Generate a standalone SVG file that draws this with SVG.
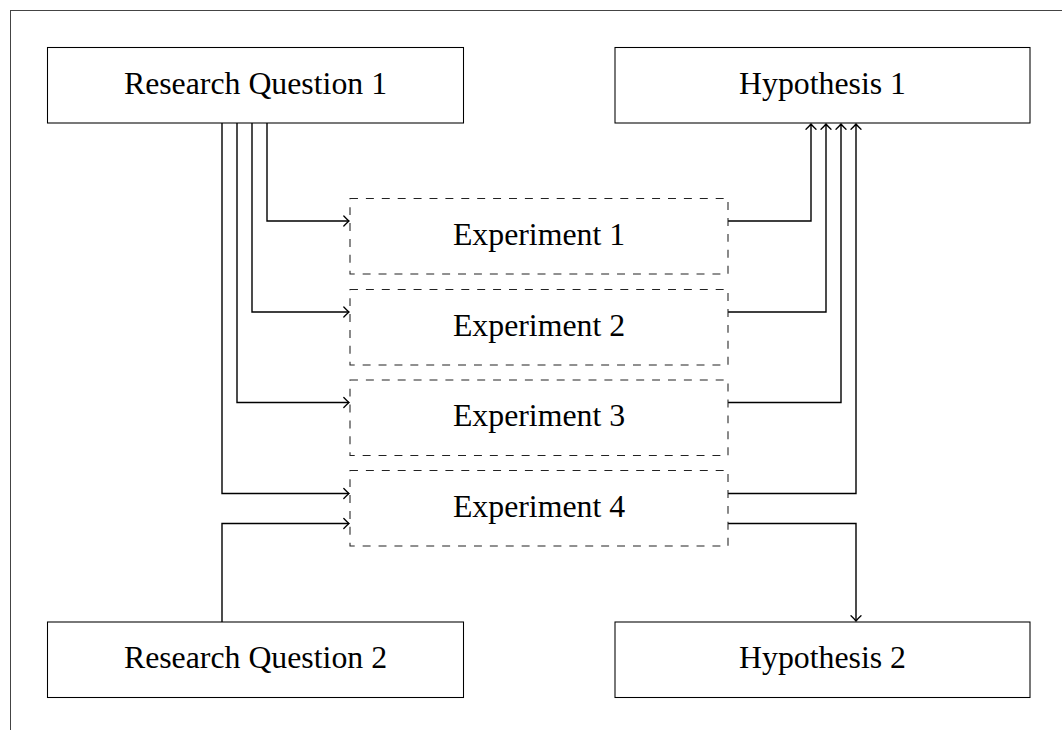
<svg xmlns="http://www.w3.org/2000/svg" width="1062" height="730" viewBox="0 0 1062 730">
<style>
.box{fill:#fff;stroke:#000;stroke-width:1.06}
.dash{fill:#fff;stroke:#222;stroke-width:1.06;stroke-dasharray:7.95 7.95}
.lbl{font-family:"Liberation Serif","Times New Roman",serif;font-size:31.8px;fill:#000;text-anchor:middle}
.c{fill:none;stroke:#000;stroke-width:1.4;marker-end:url(#arr)}
</style>
<defs>
<marker id="arr" markerUnits="userSpaceOnUse" viewBox="-10 -7 12 14" refX="0" refY="0" markerWidth="12" markerHeight="14" orient="auto">
<path d="M-5.2,-5 Q-1.8,-1.4 0,0 Q-1.8,1.4 -5.2,5" fill="none" stroke="#000" stroke-width="1.3" stroke-linecap="round"/>
</marker>
</defs>
<rect x="10.5" y="10.5" width="1200" height="900" fill="#fff" stroke="#444" stroke-width="1"/>
<g id="connectors">
<path class="c" d="M267,123 V221 H349"/>
<path class="c" d="M252,123 V312 H349"/>
<path class="c" d="M237,123 V402.5 H349"/>
<path class="c" d="M222,123 V493.5 H349"/>
<path class="c" d="M222,697 V523.5 H349"/>
<path class="c" d="M728,221 H811 V124"/>
<path class="c" d="M728,312 H826 V124"/>
<path class="c" d="M728,402.5 H841 V124"/>
<path class="c" d="M728,493.5 H856 V124"/>
<path class="c" d="M728,523.5 H856 V621"/>
</g>
<g id="rq1"><rect class="box" x="47.5" y="47.5" width="416" height="75.5"/><text class="lbl" x="255.5" y="93.5">Research Question 1</text></g>
<g id="h1"><rect class="box" x="615" y="47.5" width="415" height="75.5"/><text class="lbl" x="822.5" y="93.5">Hypothesis 1</text></g>
<g id="exp1"><rect class="dash" x="350" y="198.5" width="378" height="75.5"/><text class="lbl" x="539" y="244.5">Experiment 1</text></g>
<g id="exp2"><rect class="dash" x="350" y="289.5" width="378" height="75.5"/><text class="lbl" x="539" y="335.5">Experiment 2</text></g>
<g id="exp3"><rect class="dash" x="350" y="380" width="378" height="75.5"/><text class="lbl" x="539" y="426">Experiment 3</text></g>
<g id="exp4"><rect class="dash" x="350" y="470.5" width="378" height="75.5"/><text class="lbl" x="539" y="516.5">Experiment 4</text></g>
<g id="rq2"><rect class="box" x="47.5" y="622" width="416" height="75.5"/><text class="lbl" x="255.5" y="668">Research Question 2</text></g>
<g id="h2"><rect class="box" x="615" y="622" width="415" height="75.5"/><text class="lbl" x="822.5" y="668">Hypothesis 2</text></g>
</svg>
